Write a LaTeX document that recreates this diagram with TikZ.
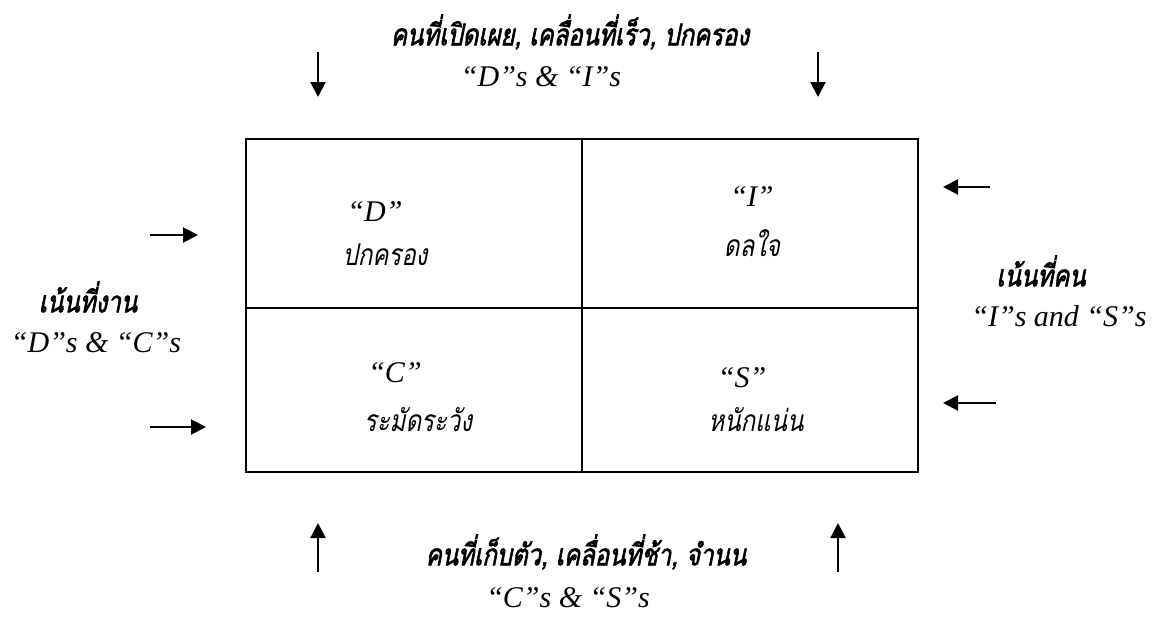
\documentclass[tikz,border=0pt]{standalone}
\usepackage{fontspec}
\setmainfont{Liberation Serif}
\newfontfamily\thaifont[Script=Thai,FakeStretch=0.8,AutoFakeSlant=0.2,AutoFakeBold=2]{Loma}
\usetikzlibrary{arrows.meta}
\tikzset{
  latin/.style={font=\fontsize{30}{34}\selectfont\itshape, inner sep=0pt},
  thaibold/.style={font=\thaifont\fontsize{30}{34}\selectfont\bfseries\itshape, inner sep=0pt},
  thaicell/.style={font=\thaifont\fontsize{30}{34}\selectfont\itshape, inner sep=0pt},
  arr/.style={-{Triangle[length=15pt,width=15pt]}, line width=2pt},
}
\begin{document}
\begin{tikzpicture}[x=1pt,y=-1pt]
\useasboundingbox (0,0) rectangle (1157,619);
\draw[line width=2pt] (246,139) rectangle (918,472);
\draw[line width=1.5pt] (582,139) -- (582,472);
\draw[line width=1.5pt] (246,308) -- (918,308);
% cells
\node[latin] (d) at (375,212) {``D''};
\node[thaicell] (dth) at (385,255) {ปกครอง};
\node[latin] (i) at (752,197) {``I''};
\node[thaicell] (ith) at (752,243) {ดลใจ};
\node[latin] (c) at (395,373) {``C''};
\node[thaicell] (cth) at (418,420) {ระมัดระวัง};
\node[latin] (s) at (742,378) {``S''};
\node[thaicell] (sth) at (756,420) {หนักแน่น};
% top
\node[thaibold] (top) at (570,32) {คนที่เปิดเผย, เคลื่อนที่เร็ว, ปกครอง};
\node[latin] (topdi) at (541,77) {``D''s \& ``I''s};
\coordinate (t1a) at (318,52); \coordinate (t1b) at (318,97);
\coordinate (t2a) at (818,52); \coordinate (t2b) at (818,97);
\draw[arr] (t1a) -- (t1b);
\draw[arr] (t2a) -- (t2b);
% bottom
\node[thaibold] (bot) at (586,552) {คนที่เก็บตัว, เคลื่อนที่ช้า, จำนน};
\node[latin] (botcs) at (568,598) {``C''s \& ``S''s};
\coordinate (b1a) at (318,572); \coordinate (b1b) at (318,523);
\coordinate (b2a) at (838,572); \coordinate (b2b) at (838,523);
\draw[arr] (b1a) -- (b1b);
\draw[arr] (b2a) -- (b2b);
% left
\node[thaibold] (lft) at (88,297) {เน้นที่งาน};
\node[latin] (lftdc) at (96,343) {``D''s \& ``C''s};
\coordinate (l1a) at (150,235); \coordinate (l1b) at (198,235);
\coordinate (l2a) at (150,427); \coordinate (l2b) at (206,427);
\draw[arr] (l1a) -- (l1b);
\draw[arr] (l2a) -- (l2b);
% right
\node[thaibold] (rgt) at (1041,271) {เน้นที่คน};
\node[latin] (rgtis) at (1059,316) {``I''s and ``S''s};
\coordinate (r1a) at (990,187); \coordinate (r1b) at (943,187);
\coordinate (r2a) at (996,403); \coordinate (r2b) at (943,403);
\draw[arr] (r1a) -- (r1b);
\draw[arr] (r2a) -- (r2b);
\end{tikzpicture}
\end{document}
